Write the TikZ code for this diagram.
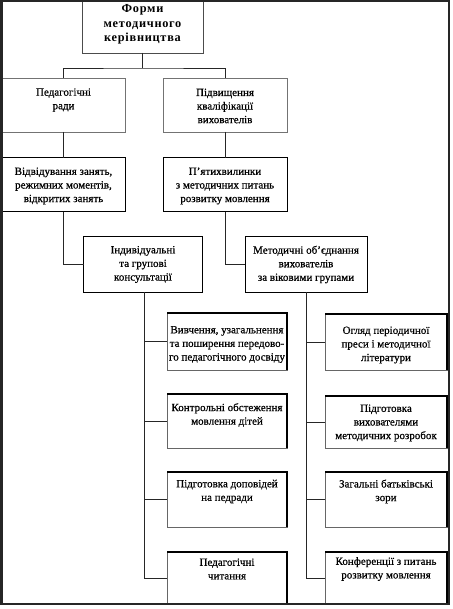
\documentclass[tikz,border=0pt]{standalone}
\usepackage{fontspec}
\setmainfont{Liberation Serif}
\newfontfamily\topfont[LetterSpace=6]{Liberation Serif}
\newfontfamily\bodyfont[FakeBold=0.6]{Liberation Serif}
\begin{document}
\begin{tikzpicture}[x=1pt,y=-1pt,
  txt/.style={align=center,inner sep=0pt,font=\bodyfont\fontsize{11}{13.6}\selectfont},
  toptxt/.style={align=center,inner sep=0pt,font=\topfont\bfseries\fontsize{12.3}{14.5}\selectfont},
  boxbase/.style={rectangle,inner sep=0pt,outer sep=0pt},
  topbox/.style={boxbase,draw=black!70,line width=0.7pt},
  lightbox/.style={boxbase,draw=black!55,line width=0.6pt},
  darkbox/.style={boxbase,draw=black,line width=1pt},
  shbox/.style={boxbase,draw=black!60,line width=0.5pt},
  edge/.style={draw=black,line width=1.3pt},
  conn/.style={draw=black!85,line width=0.7pt},
  frame/.style={draw=black!85,line width=2.2pt}]
\useasboundingbox (0,0) rectangle (452,609);
\fill[white] (0,0) rectangle (452,609);

% boxes
\node[topbox,minimum width=121,minimum height=53] (top) at (142.5,26.5) {};
\node[toptxt] (top-t) at ([yshift=2pt]top.center) {Форми\\методичного\\керівництва};

\node[lightbox,minimum width=123,minimum height=54] (ped) at (63.5,105) {};
\node[txt] (ped-t) at ([yshift=5pt]ped.center) {Педагогічні\\ради};
\node[lightbox,minimum width=124,minimum height=54] (pidv) at (225,105) {};
\node[txt] (pidv-t) at ([yshift=-1pt]pidv.center) {Підвищення\\кваліфікації\\вихователів};

\node[darkbox,minimum width=123,minimum height=54] (vidv) at (63.5,185) {};
\node[txt] (vidv-t) at ([yshift=-1pt]vidv.center) {Відвідування занять,\\режимних моментів,\\відкритих занять};
\node[darkbox,minimum width=124,minimum height=54] (pyat) at (225,185) {};
\node[txt] (pyat-t) at ([yshift=-1pt]pyat.center) {П’ятихвилинки\\з методичних питань\\розвитку мовлення};

\node[darkbox,minimum width=119,minimum height=55] (ind) at (143,264.5) {};
\node[txt] (ind-t) at (ind.center) {Індивідуальні\\та групові\\консультації};
\node[darkbox,minimum width=122,minimum height=55] (met) at (306,264.5) {};
\node[txt] (met-t) at (met.center) {Методичні об’єднання\\вихователів\\за віковими групами};

% left column
\node[shbox,minimum width=120,minimum height=57] (vyv) at (227,341.5) {};
\node[txt] (vyv-t) at ([yshift=-3pt]vyv.center) {Вивчення, узагальнення\\та поширення передово-\\го педагогічного досвіду};
\node[shbox,minimum width=120,minimum height=54] (kontr) at (227,421) {};
\node[txt] (kontr-t) at ([yshift=6pt]kontr.center) {Контрольні обстеження\\мовлення дітей};
\node[shbox,minimum width=120,minimum height=55] (dopov) at (227,499.5) {};
\node[txt] (dopov-t) at ([yshift=8pt]dopov.center) {Підготовка доповідей\\на педради};
\node[shbox,minimum width=120,minimum height=52] (pchyt) at (227,578) {};
\node[txt] (pchyt-t) at ([yshift=9pt]pchyt.center) {Педагогічні\\читання};

% right column
\node[shbox,minimum width=122,minimum height=56] (ohl) at (386,342) {};
\node[txt] (ohl-t) at ([yshift=-3pt]ohl.center) {Огляд періодичної\\преси і методичної\\літератури};
\node[shbox,minimum width=122,minimum height=52] (pidg) at (386,422) {};
\node[txt] (pidg-t) at ([yshift=-1pt]pidg.center) {Підготовка\\вихователями\\методичних розробок};
\node[shbox,minimum width=122,minimum height=55] (zah) at (386,499.5) {};
\node[txt] (zah-t) at ([yshift=8pt]zah.center) {Загальні батьківські\\зори};
\node[shbox,minimum width=122,minimum height=52] (konf) at (386,578) {};
\node[txt] (konf-t) at ([yshift=9pt]konf.center) {Конференції з питань\\розвитку мовлення};

% heavier top/right edges of the lower boxes
\foreach \n in {vyv,kontr,dopov,pchyt,ohl,pidg,zah,konf}
  \draw[edge] (\n.north west) -- (\n.north east) -- (\n.south east);

% connectors
\coordinate (j1) at ([yshift=-15pt]top.south);
\draw[conn] (top.south) -- (j1);
\draw[conn] (ped.north) |- (j1) -| (pidv.north);
\draw[conn] (ped.south) -- (vidv.north);
\draw[conn] (pidv.south) -- (pyat.north);
\draw[conn] (vidv.south) |- (ind.west);
\draw[conn] (pyat.south) |- (met.west);

\coordinate (lbus) at ([xshift=1.5pt]ind.south);
\draw[conn] (lbus) |- (pchyt.west);
\draw[conn] (lbus |- vyv.west) -- (vyv.west);
\draw[conn] (lbus |- kontr.west) -- (kontr.west);
\draw[conn] (lbus |- dopov.west) -- (dopov.west);

\draw[conn] (met.south) |- (konf.west);
\draw[conn] (met.south |- ohl.west) -- (ohl.west);
\draw[conn] (met.south |- pidg.west) -- (pidg.west);
\draw[conn] (met.south |- zah.west) -- (zah.west);

% outer frame
\draw[frame] (1.5,1) rectangle (449,604);
\end{tikzpicture}
\end{document}
